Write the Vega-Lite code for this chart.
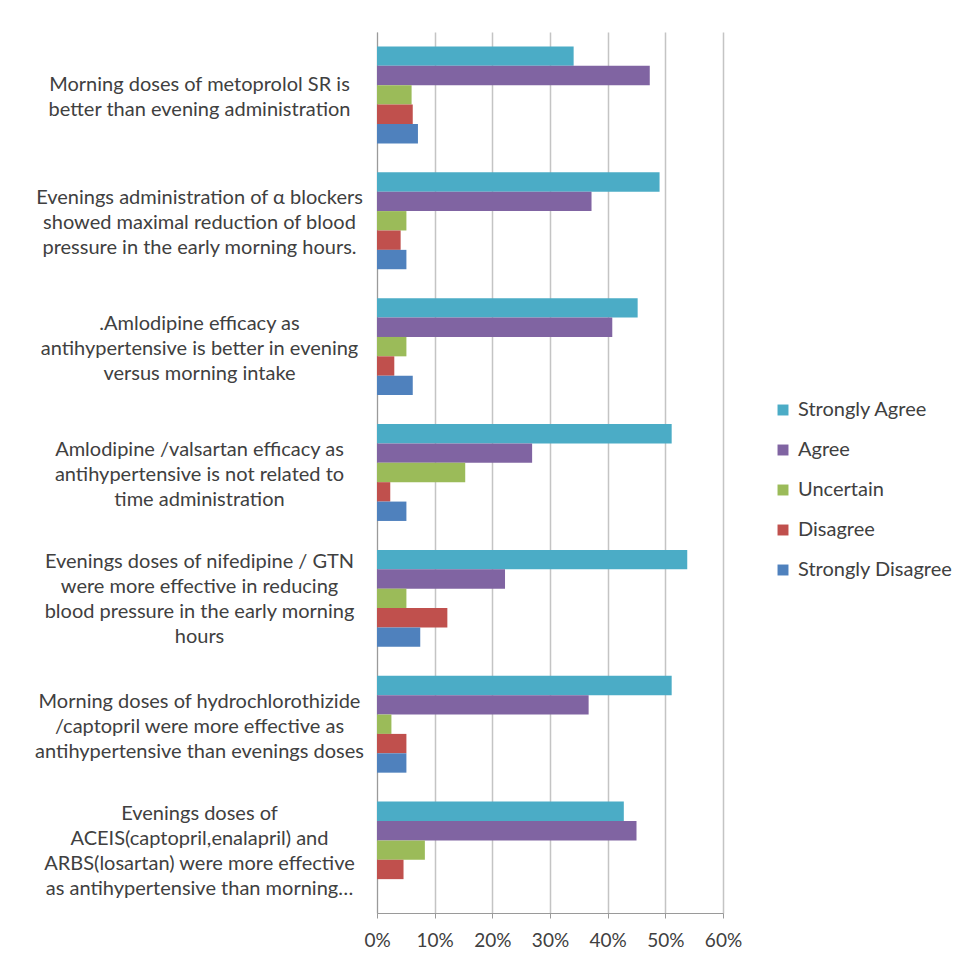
{
  "$schema": "https://vega.github.io/schema/vega-lite/v6.json",
  "autosize": {"type": "none"},
  "width": 346,
  "height": 881,
  "padding": {"left": 377, "top": 32, "right": 236, "bottom": 48},
  "background": "white",
  "config": {
    "font": "Lato",
    "view": {"stroke": null},
    "axis": {"labelColor": "#404040", "labelFont": "Lato", "domainColor": "#9a9a9a", "tickColor": "#9a9a9a"},
    "legend": {"labelColor": "#404040", "labelFont": "Lato"}
  },
  "data": {
    "values": [
      {"q": "Morning doses of metoprolol SR is|better than evening administration", "r": "Strongly Agree", "v": 0.341},
      {"q": "Morning doses of metoprolol SR is|better than evening administration", "r": "Agree", "v": 0.473},
      {"q": "Morning doses of metoprolol SR is|better than evening administration", "r": "Uncertain", "v": 0.060},
      {"q": "Morning doses of metoprolol SR is|better than evening administration", "r": "Disagree", "v": 0.062},
      {"q": "Morning doses of metoprolol SR is|better than evening administration", "r": "Strongly Disagree", "v": 0.071},
      {"q": "Evenings administration of α blockers|showed maximal reduction of blood|pressure in the early  morning hours.", "r": "Strongly Agree", "v": 0.490},
      {"q": "Evenings administration of α blockers|showed maximal reduction of blood|pressure in the early  morning hours.", "r": "Agree", "v": 0.372},
      {"q": "Evenings administration of α blockers|showed maximal reduction of blood|pressure in the early  morning hours.", "r": "Uncertain", "v": 0.051},
      {"q": "Evenings administration of α blockers|showed maximal reduction of blood|pressure in the early  morning hours.", "r": "Disagree", "v": 0.041},
      {"q": "Evenings administration of α blockers|showed maximal reduction of blood|pressure in the early  morning hours.", "r": "Strongly Disagree", "v": 0.051},
      {"q": ".Amlodipine  efficacy as|antihypertensive is better in evening|versus morning intake", "r": "Strongly Agree", "v": 0.452},
      {"q": ".Amlodipine  efficacy as|antihypertensive is better in evening|versus morning intake", "r": "Agree", "v": 0.408},
      {"q": ".Amlodipine  efficacy as|antihypertensive is better in evening|versus morning intake", "r": "Uncertain", "v": 0.051},
      {"q": ".Amlodipine  efficacy as|antihypertensive is better in evening|versus morning intake", "r": "Disagree", "v": 0.030},
      {"q": ".Amlodipine  efficacy as|antihypertensive is better in evening|versus morning intake", "r": "Strongly Disagree", "v": 0.062},
      {"q": "Amlodipine /valsartan efficacy as|antihypertensive is not related to|time administration", "r": "Strongly Agree", "v": 0.511},
      {"q": "Amlodipine /valsartan efficacy as|antihypertensive is not related to|time administration", "r": "Agree", "v": 0.269},
      {"q": "Amlodipine /valsartan efficacy as|antihypertensive is not related to|time administration", "r": "Uncertain", "v": 0.153},
      {"q": "Amlodipine /valsartan efficacy as|antihypertensive is not related to|time administration", "r": "Disagree", "v": 0.023},
      {"q": "Amlodipine /valsartan efficacy as|antihypertensive is not related to|time administration", "r": "Strongly Disagree", "v": 0.051},
      {"q": "Evenings doses of nifedipine / GTN|were more effective in reducing|blood pressure in the early  morning|hours", "r": "Strongly Agree", "v": 0.538},
      {"q": "Evenings doses of nifedipine / GTN|were more effective in reducing|blood pressure in the early  morning|hours", "r": "Agree", "v": 0.222},
      {"q": "Evenings doses of nifedipine / GTN|were more effective in reducing|blood pressure in the early  morning|hours", "r": "Uncertain", "v": 0.051},
      {"q": "Evenings doses of nifedipine / GTN|were more effective in reducing|blood pressure in the early  morning|hours", "r": "Disagree", "v": 0.122},
      {"q": "Evenings doses of nifedipine / GTN|were more effective in reducing|blood pressure in the early  morning|hours", "r": "Strongly Disagree", "v": 0.075},
      {"q": "Morning doses of hydrochlorothizide|/captopril were more effective as|antihypertensive than evenings doses", "r": "Strongly Agree", "v": 0.511},
      {"q": "Morning doses of hydrochlorothizide|/captopril were more effective as|antihypertensive than evenings doses", "r": "Agree", "v": 0.367},
      {"q": "Morning doses of hydrochlorothizide|/captopril were more effective as|antihypertensive than evenings doses", "r": "Uncertain", "v": 0.025},
      {"q": "Morning doses of hydrochlorothizide|/captopril were more effective as|antihypertensive than evenings doses", "r": "Disagree", "v": 0.051},
      {"q": "Morning doses of hydrochlorothizide|/captopril were more effective as|antihypertensive than evenings doses", "r": "Strongly Disagree", "v": 0.051},
      {"q": "Evenings doses of|ACEIS(captopril,enalapril) and|ARBS(losartan) were more effective| as antihypertensive than morning…", "r": "Strongly Agree", "v": 0.428},
      {"q": "Evenings doses of|ACEIS(captopril,enalapril) and|ARBS(losartan) were more effective| as antihypertensive than morning…", "r": "Agree", "v": 0.450},
      {"q": "Evenings doses of|ACEIS(captopril,enalapril) and|ARBS(losartan) were more effective| as antihypertensive than morning…", "r": "Uncertain", "v": 0.083},
      {"q": "Evenings doses of|ACEIS(captopril,enalapril) and|ARBS(losartan) were more effective| as antihypertensive than morning…", "r": "Disagree", "v": 0.046},
      {"q": "Evenings doses of|ACEIS(captopril,enalapril) and|ARBS(losartan) were more effective| as antihypertensive than morning…", "r": "Strongly Disagree", "v": 0.0}
    ]
  },
  "mark": {"type": "bar"},
  "encoding": {
    "y": {
      "field": "q",
      "type": "nominal",
      "sort": null,
      "title": null,
      "scale": {"paddingInner": 0.23, "paddingOuter": 0.115},
      "axis": {
        "labelExpr": "split(datum.value, '|')",
        "labelAlign": "center",
        "labelBaseline": "middle",
        "labelFontSize": 20,
        "labelLineHeight": 25,
        "labelLimit": 400,
        "labelPadding": 178,
        "labelOffset": {
          "condition": [
            {"test": "length(split(datum.value, '|')) == 2", "value": -10},
            {"test": "length(split(datum.value, '|')) == 3", "value": -22.5}
          ],
          "value": -36
        },
        "ticks": false,
        "domainWidth": 1
      }
    },
    "yOffset": {
      "field": "r",
      "type": "nominal",
      "sort": ["Strongly Agree", "Agree", "Uncertain", "Disagree", "Strongly Disagree"]
    },
    "x": {
      "field": "v",
      "type": "quantitative",
      "title": null,
      "scale": {"domain": [0, 0.6], "nice": false},
      "axis": {
        "values": [0, 0.1, 0.2, 0.3, 0.4, 0.5, 0.6],
        "format": ".0%",
        "grid": true,
        "gridColor": "#c4c4c4",
        "gridWidth": 1.5,
        "labelFontSize": 19,
        "labelPadding": 13,
        "labelFlush": false,
        "labelOverlap": false,
        "tickSize": 5
      }
    },
    "color": {
      "field": "r",
      "type": "nominal",
      "title": null,
      "scale": {
        "domain": ["Strongly Agree", "Agree", "Uncertain", "Disagree", "Strongly Disagree"],
        "range": ["#4BACC6", "#8064A2", "#9BBB59", "#C0504D", "#4F81BD"]
      },
      "legend": {
        "orient": "none",
        "legendX": 396,
        "legendY": 368,
        "symbolType": "square",
        "symbolSize": 120,
        "symbolStrokeWidth": 0,
        "labelFontSize": 20,
        "labelOffset": 5,
        "rowPadding": 20
      }
    }
  }
}
